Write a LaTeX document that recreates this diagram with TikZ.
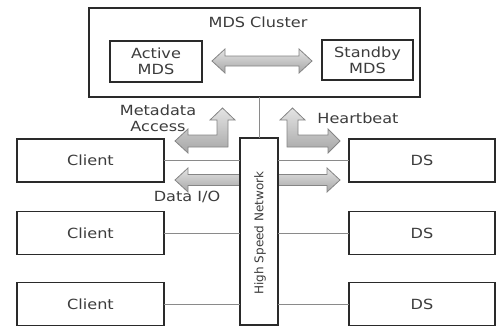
\documentclass[tikz,border=0pt]{standalone}
\usepackage{fontspec}
\setmainfont[FakeStretch=1.15]{DejaVu Sans}
\newfontfamily\netfont{DejaVu Sans}
\definecolor{boxline}{HTML}{2A2A2A}
\definecolor{txt}{HTML}{3C3C3C}
\definecolor{thin}{HTML}{8A8A8A}
\definecolor{arrline}{HTML}{858585}
\definecolor{arrtop}{HTML}{E4E4E4}
\definecolor{arrbot}{HTML}{A6A6A6}
\tikzset{
  boxnode/.style={draw=boxline, line width=1.6pt, fill=white, rectangle, inner sep=0pt, outer sep=0pt,
    text=txt, font=\fontsize{14}{16}\selectfont, align=center},
  lbl/.style={text=txt, font=\fontsize{14}{16}\selectfont, align=center, inner sep=0pt},
  wire/.style={draw=thin, line width=0.8pt},
  fatarrow/.style={draw=arrline, line width=0.8pt, top color=arrtop, bottom color=arrbot, line join=miter},
}
\begin{document}
\begin{tikzpicture}[x=1pt,y=-1pt]
\useasboundingbox (0,0) rectangle (496,327);
% MDS cluster
\node[boxnode, minimum width=331pt, minimum height=89pt] (mds) at (254.5,52.5) {};
\node[lbl] (mdslbl) at (258,22) {MDS Cluster};
\node[boxnode, minimum width=92pt, minimum height=41pt] (act) at (156,61.5) {Active\\MDS};
\node[boxnode, minimum width=91pt, minimum height=40pt] (stb) at (367.5,60) {Standby\\MDS};
\draw[fatarrow] (212,61) -- (225,49) -- (225,56) -- (299,56) -- (299,49) -- (312,61)
  -- (299,73) -- (299,66) -- (225,66) -- (225,73) -- cycle;
% clients and DS
\foreach \i/\y in {1/160.5,2/233,3/304}{
  \node[boxnode, minimum width=147pt, minimum height=43pt] (c\i) at (90.5,\y) {Client};
  \node[boxnode, minimum width=146pt, minimum height=43pt] (d\i) at (422,\y) {DS};
}
% Data I/O arrow (behind network)
\draw[fatarrow] (175,180) -- (188,168) -- (188,174.5) -- (327,174.5) -- (327,168) -- (340,180)
  -- (327,192) -- (327,185.5) -- (188,185.5) -- (188,192) -- cycle;
% network
\node[boxnode, minimum width=38pt, minimum height=187pt] (net) at (259,231.5) {};
\node[rotate=90, text=txt, font=\netfont\fontsize{12}{14}\selectfont, inner sep=0pt] (netlbl) at (260,233) {High Speed Network};
% wires
\draw[wire] (net.north) -- (net.north |- mds.south);
\foreach \i in {1,2,3}{
  \draw[wire] (c\i.east) -- (c\i.east -| net.west);
  \draw[wire] (d\i.west -| net.east) -- (d\i.west);
}
% Metadata Access arrow
\draw[fatarrow] (175,141) -- (188,129) -- (188,135) -- (217,135) -- (217,120) -- (210,120)
  -- (222.5,108) -- (235,120) -- (228,120) -- (228,147) -- (188,147) -- (188,153) -- cycle;
% Heartbeat arrow
\draw[fatarrow] (292.5,108) -- (305,120) -- (298,120) -- (298,135) -- (328,135) -- (328,129)
  -- (340,141) -- (328,153) -- (328,147) -- (287,147) -- (287,120) -- (280,120) -- cycle;
% labels
\node[lbl] (metalbl) at (158,118) {Metadata\\Access};
\node[lbl] (hblbl) at (358,118) {Heartbeat};
\node[lbl] (dio) at (187,197) {Data I/O};
\end{tikzpicture}
\end{document}
